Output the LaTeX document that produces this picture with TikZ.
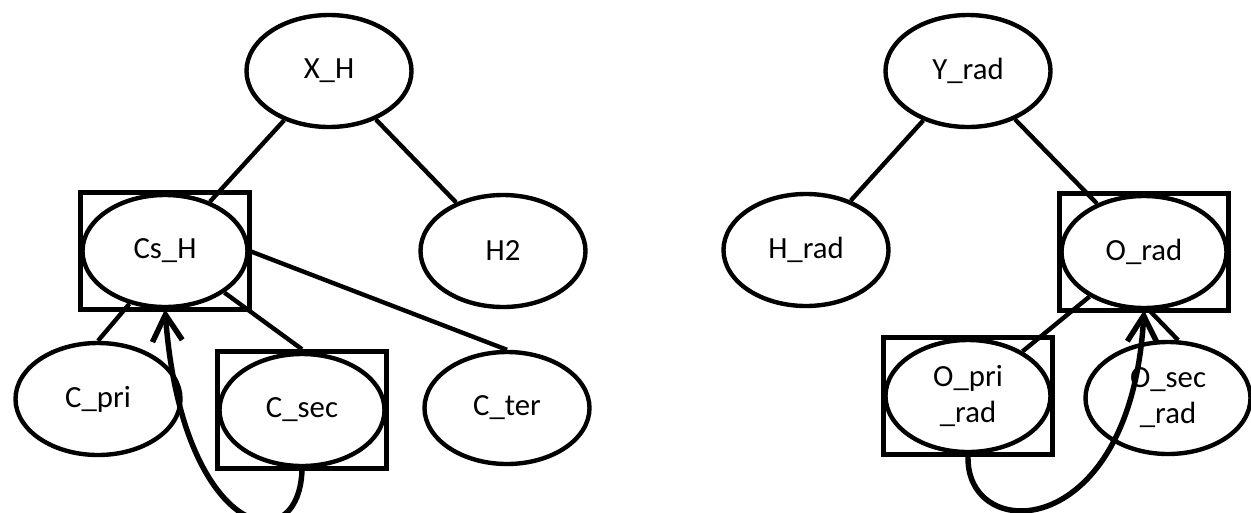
\documentclass[tikz,border=0pt]{standalone}
\usepackage{fontspec}
\setmainfont{Carlito}
\usetikzlibrary{arrows.meta, fit, shapes.geometric}

\tikzset{
  entity/.style={draw, ellipse, line width=2.5pt, minimum width=3.30cm,
                 minimum height=2.24cm, inner sep=0pt, align=center,
                 font=\fontsize{17.5}{20.5}\selectfont},
  boxframe/.style={draw, rectangle, line width=2.9pt, inner sep=0pt},
  link/.style={line width=2.5pt},
  backarrow/.style={->, line width=3.1pt},
}

\begin{document}
\begin{tikzpicture}[>={Straight Barb[length=15pt, width=17pt]}]
  \useasboundingbox (0,0) rectangle (25.02,-10.24);

  % left tree
  \node[entity] (xh)   at (6.58,-1.42)  {X\_H};
  \node[entity] (cs)   at (3.30,-5.02)  {Cs\_H};
  \node[entity] (h2)   at (10.06,-5.02) {H2};
  \node[entity] (cpri) at (1.96,-7.98)  {C\_pri};
  \node[entity] (csec) at (6.04,-8.20)  {C\_sec};
  \node[entity] (cter) at (10.14,-8.16) {C\_ter};
  \node[boxframe, fit=(cs)]   (csbox)   {};
  \node[boxframe, fit=(csec)] (csecbox) {};

  \draw[link] (xh) -- (cs);
  \draw[link] (xh) -- (h2);
  \draw[link] (cs.236) -- (cpri.north);
  \draw[link] (cs.325) -- (csecbox.north);
  \draw[link] (cs.east) -- (cter.north);

  % reuse of C_sec
  \draw[backarrow] (csecbox.south) .. controls +(-0.08,-1.86) and +(0.34,-4.54) .. (cs.south);

  % right tree
  \node[entity] (yrad)  at (19.36,-1.42) {Y\_rad};
  \node[entity] (hrad)  at (16.12,-5.00) {H\_rad};
  \node[entity] (orad)  at (22.88,-5.04) {O\_rad};
  \node[entity] (opri)  at (19.36,-7.92) {O\_pri\\\_rad};
  \node[entity] (osec)  at (23.36,-7.96) {O\_sec\\\_rad};
  \node[boxframe, fit=(orad)] (oradbox) {};
  \node[boxframe, fit=(opri)] (opribox) {};

  \draw[link] (yrad) -- (hrad);
  \draw[link] (yrad) -- (orad);
  \draw[link] (orad) -- (opri);
  \draw[link] (orad.275) -- (osec.80);

  % reuse of O_pri_rad
  \draw[backarrow] (opribox.south) .. controls +(-0.04,-1.76) and +(-0.26,-4.66) .. (orad.south);
\end{tikzpicture}
\end{document}
